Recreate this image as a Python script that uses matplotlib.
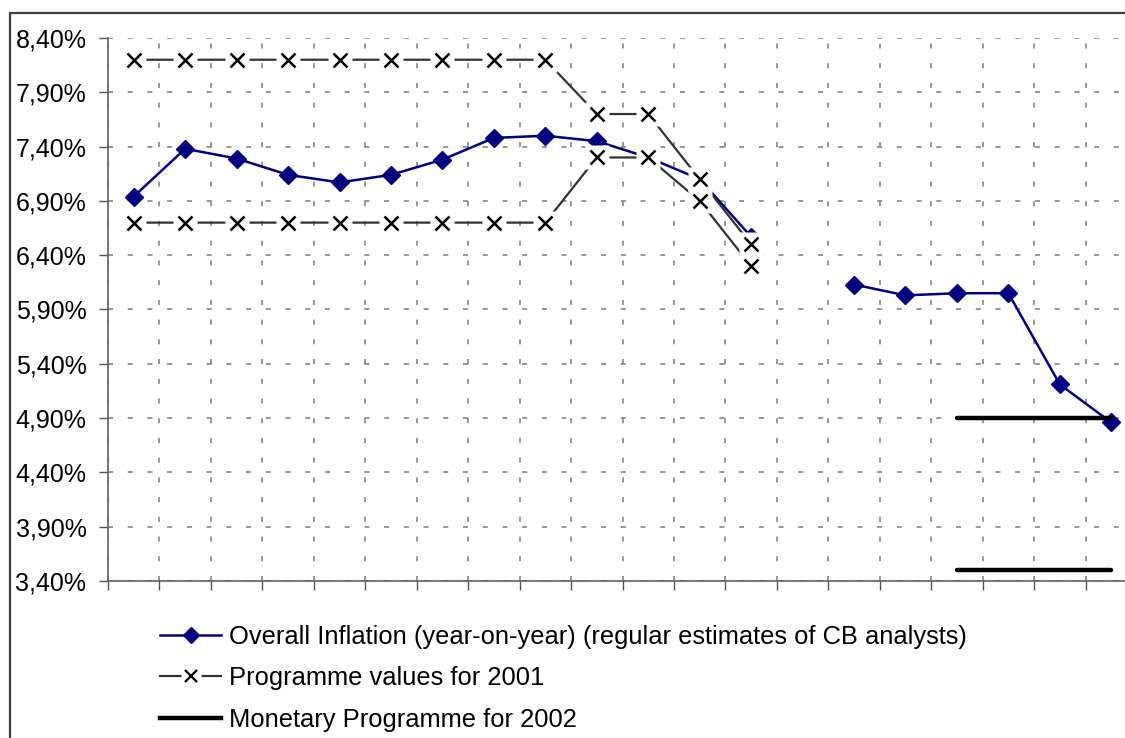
import numpy as np
import matplotlib
matplotlib.use("Agg")
import matplotlib.pyplot as plt
from matplotlib.lines import Line2D
from matplotlib.patches import Rectangle

nan = np.nan

# 20 periods on the category axis (no labels shown)
periods = np.arange(20)

inflation = [6.94, 7.38, 7.29, 7.14, 7.07, 7.14, 7.28, 7.48, 7.50, 7.45,
             7.30, 7.10, 6.57, nan, 6.13, 6.03, 6.05, 6.05, 5.21, 4.86]

prog2001_upper = [8.20, 8.20, 8.20, 8.20, 8.20, 8.20, 8.20, 8.20, 8.20, 7.70,
                  7.70, 7.10, 6.50, nan, nan, nan, nan, nan, nan, nan]
prog2001_lower = [6.70, 6.70, 6.70, 6.70, 6.70, 6.70, 6.70, 6.70, 6.70, 7.30,
                  7.30, 6.90, 6.30, nan, nan, nan, nan, nan, nan, nan]

prog2002_upper = [nan, nan, nan, nan, nan, nan, nan, nan, nan, nan,
                  nan, nan, nan, nan, nan, nan, 4.90, 4.90, 4.90, 4.90]
prog2002_lower = [nan, nan, nan, nan, nan, nan, nan, nan, nan, nan,
                  nan, nan, nan, nan, nan, nan, 3.50, 3.50, 3.50, 3.50]

y_ticks = [3.40, 3.90, 4.40, 4.90, 5.40, 5.90, 6.40, 6.90, 7.40, 7.90, 8.40]

labels = ["Overall Inflation (year-on-year) (regular estimates of CB analysts)",
          "Programme values for 2001",
          "Monetary Programme for 2002"]

plt.rcParams["font.family"] = ["Liberation Sans", "DejaVu Sans"]
plt.rcParams["lines.scale_dashes"] = False

W, H = 1125, 738
fig = plt.figure(figsize=(W / 100, H / 100), dpi=100)
# plot area runs a little past the right edge of the picture, as in the original
ax = fig.add_axes([108 / W, 1 - 581 / H, (1137 - 108) / W, (581 - 38) / H])

navy = "#000080"
prog_col = "#333333"

# inflation
ax.plot(periods, inflation, color=navy, lw=1.8, marker="D", ms=9,
        mfc=navy, mec=navy, zorder=3)

# programme 2001: line, white mask round markers, then x markers
for s in (prog2001_upper, prog2001_lower):
    ax.plot(periods, s, color=prog_col, lw=1.6, zorder=3.5)
for s in (prog2001_upper, prog2001_lower):
    ax.plot(periods, s, ls="none", marker="s", ms=17, mfc="white",
            mec="none", zorder=4)
    ax.plot(periods, s, ls="none", marker="x", ms=10, mew=1.8,
            color="black", zorder=5)

# monetary programme 2002
for s in (prog2002_upper, prog2002_lower):
    ax.plot(periods, s, color="black", lw=3.2, solid_capstyle="round",
            zorder=3)

ax.set_xlim(-0.5, 19.5)
ax.set_ylim(3.40, 8.40)
ax.set_xticks(np.arange(-0.5, 20, 1))
ax.set_xticklabels([])
ax.set_yticks(y_ticks)
ax.set_yticklabels([("%.2f%%" % v).replace(".", ",") for v in y_ticks],
                   fontsize=18)
ax.tick_params(axis="both", direction="out", length=6.5, width=1,
               color="#555555")
ax.tick_params(axis="y", pad=9)

ax.grid(True, color="#7a7a7a", lw=1.1, ls=(0, (3.6, 10.6)))
ax.set_axisbelow(True)

for side in ("top", "right"):
    ax.spines[side].set_visible(False)
for side in ("left", "bottom"):
    ax.spines[side].set_color("#606060")
    ax.spines[side].set_linewidth(1.2)

# outer chart frame
fig.add_artist(Rectangle((10 / W, -0.2), 1.2, 1.2 + (1 - 13 / H) - 1,
                         transform=fig.transFigure, fill=False,
                         ec="#404040", lw=1.6))

# legend
h1 = Line2D([], [], color=navy, lw=1.8, marker="D", ms=8, mfc=navy, mec=navy)
h2_line = Line2D([], [], color=prog_col, lw=1.6)
h2_mask = Line2D([], [], ls="none", marker="s", ms=14, mfc="white", mec="none")
h2_x = Line2D([], [], ls="none", marker="x", ms=9, mew=1.6, color="black")
h3 = Line2D([], [], color="black", lw=3.2)
fig.legend([h1, (h2_line, h2_mask, h2_x), h3], labels,
           loc="upper left", bbox_to_anchor=(160 / W, 1 - 625 / H),
           frameon=False, fontsize=18.4, handlelength=2.4, handletextpad=0.3,
           labelspacing=0.68, borderpad=0, borderaxespad=0)

fig.savefig("out.png", dpi=100)
